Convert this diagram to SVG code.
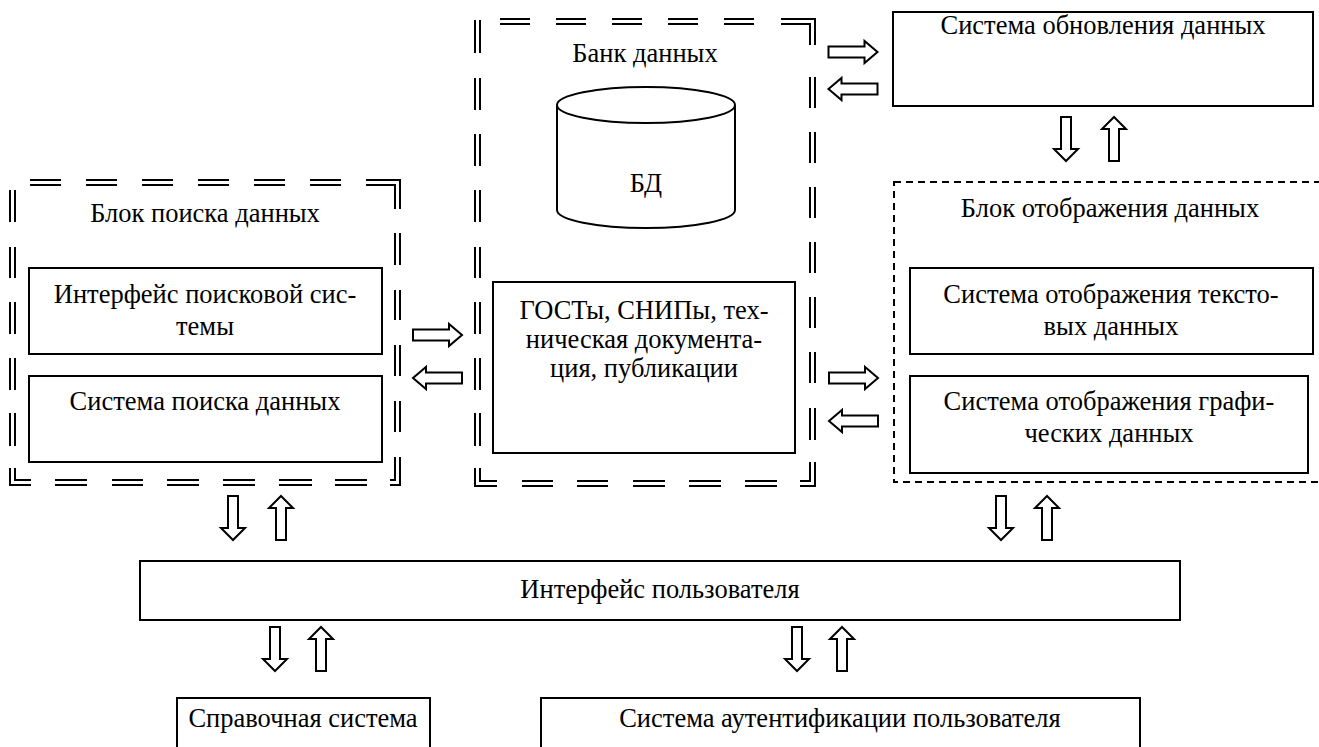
<svg xmlns="http://www.w3.org/2000/svg" xmlns:xlink="http://www.w3.org/1999/xlink" width="1319" height="747" viewBox="0 0 1319 747">
<style>
.bx{fill:#fff;stroke:#000;stroke-width:2}
.dd{fill:none;stroke:#000;stroke-width:2}
.ds{fill:none;stroke:#000;stroke-width:2;stroke-dasharray:7 5}
.ar{fill:#fff;stroke:#000;stroke-width:2;stroke-linejoin:miter}
text{font-family:'Liberation Serif','DejaVu Serif',serif;font-size:26.5px;fill:#000;text-anchor:middle}
</style>
<defs>
<path id="ah" d="M-24.5,-5.5 H11.5 V-11 L24.5,0 L11.5,11 V5.5 H-24.5 Z"/>
<path id="av" d="M-5,-22 H5 V10 H12 L0,22 L-12,10 H-5 Z"/>
</defs>
<rect width="1319" height="747" fill="#fff"/>

<g id="search-block">
<path class="dd" d="M30 180H61M86 180H117M142 180H173M198 180H229M254 180H285M310 180H341M366 180H400V209M400 233V265M400 290V320M400 345V376M400 401V432M400 457V485H390M367 485H335M312 485H279M255 485H223M199 485H167M143 485H112M87 485H55M31 485H10V468M10 446V413M10 390V358M10 334V302M10 278V247M10 222V190"/>
<path class="dd" d="M30 185H61M86 185H117M142 185H173M198 185H229M254 185H285M310 185H341M366 185H395V209M395 233V265M395 290V320M395 345V376M395 401V432M395 457V480H390M367 480H335M312 480H279M255 480H223M199 480H167M143 480H112M87 480H55M31 480H15V468M15 446V413M15 390V358M15 334V302M15 278V247M15 222V190"/>
<text x="205" y="222" font-family="Liberation Serif, serif">Блок поиска данных</text>
</g>
<g id="search-interface">
<rect class="bx" x="29" y="268" width="353" height="86"/>
<text x="205" y="303">Интерфейс поисковой сис-</text>
<text x="205" y="335">темы</text>
</g>
<g id="search-system">
<rect class="bx" x="29" y="376" width="353" height="86"/>
<text x="205" y="410">Система поиска данных</text>
</g>

<g id="data-bank">
<path class="dd" d="M500 19H530M556 19H586M612 19H642M668 19H698M724 19H754M781 19H815V45M815 77V108M815 132V163M815 187V218M815 242V273M815 297V328M815 352V383M815 408V440M815 462V486H800M777 486H745M721 486H689M665 486H633M608 486H577M553 486H522M497 486H475V468M475 446V413M475 390V358M475 334V302M475 278V247M475 222V190M475 166V134M475 110V78M475 53V20"/>
<path class="dd" d="M500 24H530M556 24H586M612 24H642M668 24H698M724 24H754M781 24H810V45M810 77V108M810 132V163M810 187V218M810 242V273M810 297V328M810 352V383M810 408V440M810 462V481H800M777 481H745M721 481H689M665 481H633M608 481H577M553 481H522M497 481H480V468M480 446V413M480 390V358M480 334V302M480 278V247M480 222V190M480 166V134M480 110V78M480 53V20"/>
<text x="645" y="62">Банк данных</text>
</g>
<g id="db">
<path class="bx" d="M557 105V210A89 18 0 0 0 735 210V105"/>
<ellipse class="bx" cx="646" cy="105" rx="89" ry="18"/>
<text x="646" y="192">БД</text>
</g>
<g id="docs">
<rect class="bx" x="493" y="282" width="302" height="171"/>
<text x="644" y="319">ГОСТы, СНИПы, тех-</text>
<text x="644" y="348">ническая документа-</text>
<text x="644" y="377">ция, публикации</text>
</g>

<g id="update-system">
<rect class="bx" x="893" y="12" width="420" height="94"/>
<text x="1103" y="34">Система обновления данных</text>
</g>

<g id="display-block">
<rect class="ds" x="894" y="182" width="440" height="300"/>
<text x="1110" y="217">Блок отображения данных</text>
</g>
<g id="text-display">
<rect class="bx" x="910" y="268" width="403" height="86"/>
<text x="1111" y="303">Система отображения тексто-</text>
<text x="1111" y="335">вых данных</text>
</g>
<g id="graphic-display">
<rect class="bx" x="910" y="376" width="398" height="97"/>
<text x="1109" y="410">Система отображения графи-</text>
<text x="1109" y="442">ческих данных</text>
</g>

<g id="user-interface">
<rect class="bx" x="140" y="561" width="1040" height="59"/>
<text x="660" y="598">Интерфейс пользователя</text>
</g>
<g id="help-system">
<rect class="bx" x="177" y="698" width="253" height="60"/>
<text x="303" y="727">Справочная система</text>
</g>
<g id="auth-system">
<rect class="bx" x="541" y="698" width="599" height="60"/>
<text x="840" y="727">Система аутентификации пользователя</text>
</g>

<g id="connectors">
<use xlink:href="#ah" class="ar" transform="translate(853,52)"/>
<use xlink:href="#ah" class="ar" transform="translate(853,89) rotate(180)"/>
<use xlink:href="#ah" class="ar" transform="translate(437.5,335)"/>
<use xlink:href="#ah" class="ar" transform="translate(437.5,378) rotate(180)"/>
<use xlink:href="#ah" class="ar" transform="translate(853.5,378)"/>
<use xlink:href="#ah" class="ar" transform="translate(853.5,421) rotate(180)"/>
<use xlink:href="#av" class="ar" transform="translate(1066,139)"/>
<use xlink:href="#av" class="ar" transform="translate(1114,139) rotate(180)"/>
<use xlink:href="#av" class="ar" transform="translate(233,518)"/>
<use xlink:href="#av" class="ar" transform="translate(281,518) rotate(180)"/>
<use xlink:href="#av" class="ar" transform="translate(1001,518)"/>
<use xlink:href="#av" class="ar" transform="translate(1047,518) rotate(180)"/>
<use xlink:href="#av" class="ar" transform="translate(275,649)"/>
<use xlink:href="#av" class="ar" transform="translate(321,649) rotate(180)"/>
<use xlink:href="#av" class="ar" transform="translate(797,649)"/>
<use xlink:href="#av" class="ar" transform="translate(842,649) rotate(180)"/>
</g>
</svg>
